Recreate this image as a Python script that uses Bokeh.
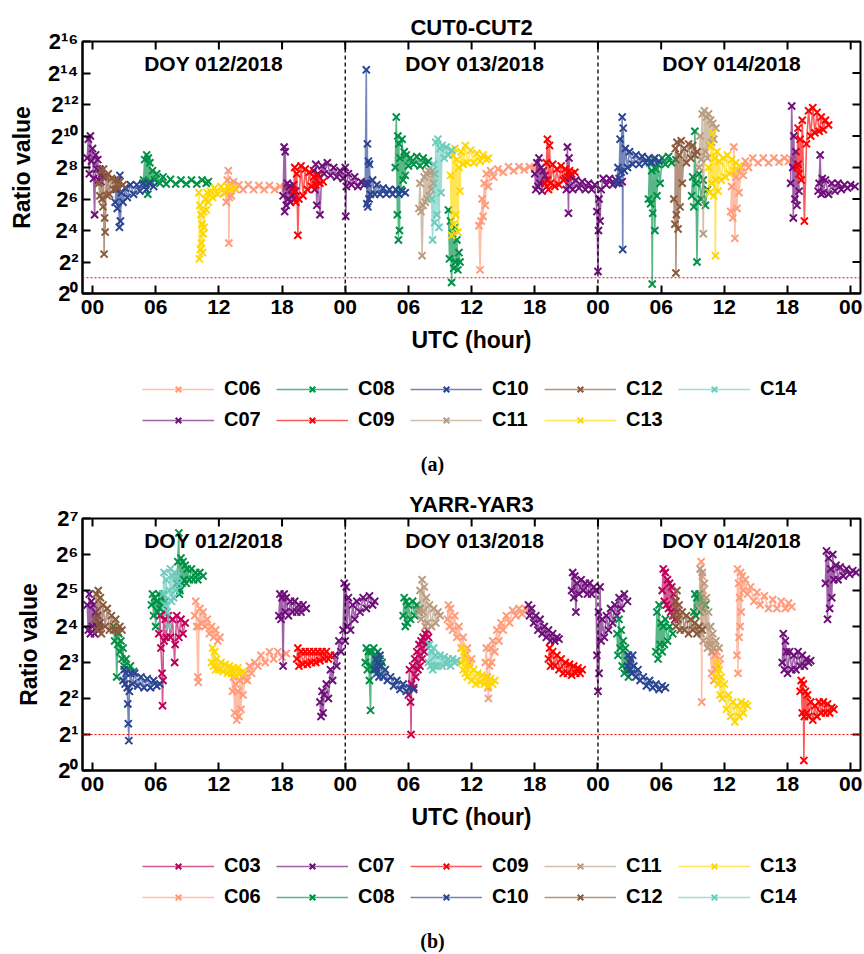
import numpy as np
from bokeh.plotting import figure
from bokeh.layouts import column
from bokeh.models import (Range1d, FixedTicker, CustomJSTickFormatter, Span, Label,
                          Legend, LegendItem)
from bokeh.embed import file_html
from bokeh.resources import INLINE

FONT = "Liberation Sans"

# ---------------- tick values ----------------
hour_ticks = list(range(0, 73, 6))
a_ytick_exp = [0, 2, 4, 6, 8, 10, 12, 14, 16]
b_ytick_exp = [0, 1, 2, 3, 4, 5, 6, 7]
ratio_threshold = 2
day_boundaries = [24, 48]
day_labels = ["DOY 012/2018", "DOY 013/2018", "DOY 014/2018"]

colors = {
    "C03": "#BE0058", "C06": "#FF9B7A", "C07": "#6E0F7A", "C08": "#009046",
    "C09": "#FF0000", "C10": "#2B4592", "C11": "#B99C82", "C12": "#8B5A3C",
    "C13": "#FFD700", "C14": "#6CCDBE",
}

# ---------------- panel (a) CUT0-CUT2: hour of 3-day span, log2(ratio) ----------------
a_c06_hour = [[12.6,12.7,12.8,12.9,12.95,13.0,13.1,13.2,13.4,13.6,13.9,14.3,14.8,15.3,15.8,16.3,16.8,17.3,17.8,18.3],
              [36.7,36.8,36.9,37.0,37.1,37.2,37.3,37.4,37.6,37.8,38.1,38.5,39.0,39.5,40.0,40.5,41.0,41.5,42.0,42.2],
              [60.6,60.7,60.8,60.9,61.0,61.1,61.2,61.3,61.4,61.6,61.8,62.0,62.3,62.7,63.2,63.7,64.2,64.7,65.2,65.7,66.1,66.4]]
a_c06_log2 = [[6.4,5.8,7.2,7.8,3.2,6.1,7.0,6.2,7.1,6.6,6.9,6.6,6.9,6.6,6.85,6.6,6.85,6.6,6.8,6.7],
              [4.3,1.5,4.6,6.0,4.9,7.0,5.6,7.6,6.8,7.8,7.4,7.9,7.7,8.05,7.8,8.05,7.85,8.05,7.9,8.0],
              [5.2,6.8,4.8,9.3,3.5,7.4,5.4,7.8,6.4,8.0,7.5,8.4,8.0,8.6,8.3,8.6,8.3,8.6,8.35,8.6,8.4,8.5]]

a_c07_hour = [[-0.5,-0.4,-0.3,-0.2,-0.1,0.0,0.1,0.2,0.3,0.4,0.5,0.6,0.7,0.8,0.9,1.0],
              [18.1,18.2,18.25,18.3,18.4,18.5,18.6,18.7,18.8,18.9,19.0,19.1,19.2,19.3],
              [21.0,21.1,21.2,21.3,21.4,21.6,21.8,22.0,22.3,22.6,22.9,23.2,23.5,23.8,24.0,24.05,24.1,24.3,24.6,24.9,25.2,25.5,25.8,26.1],
              [42.0,42.1,42.2,42.3,42.4,42.5,42.6,42.7,42.8,42.9,43.0,43.2],
              [44.9,45.0,45.1,45.2,45.25,45.3,45.4,45.6,45.9,46.2,46.5,46.8,47.1,47.4,47.7,47.9,48.0,48.05,48.1,48.2,48.3,48.5,48.8,49.1,49.4,49.7,50.0,50.3],
              [66.3,66.4,66.5,66.55,66.6,66.7,66.8,66.9,67.0,67.1],
              [68.9,69.0,69.1,69.2,69.3,69.4,69.6,69.9,70.2,70.5,70.8,71.1,71.4,71.7,72.0,72.4]]
a_c07_log2 = [[8.6,9.8,7.6,10.0,8.4,9.2,7.3,5.0,8.8,7.9,8.5,7.2,7.9,7.1,7.6,7.4],
              [6.2,9.3,5.2,9.0,5.6,7.0,6.0,6.8,5.8,6.6,6.2,6.9,6.0,6.5],
              [7.8,6.6,8.2,5.6,7.6,5.0,8.1,7.6,8.3,7.5,8.0,7.4,7.8,7.3,8.0,4.9,6.8,7.6,6.9,7.4,6.8,7.1,6.9,7.0],
              [7.6,6.6,8.3,6.8,8.6,7.0,8.0,6.5,7.8,7.0,7.5,7.2],
              [7.3,6.6,9.3,5.1,8.6,6.8,7.4,6.6,7.2,6.7,7.1,6.6,7.0,6.6,6.9,5.2,1.4,4.0,6.0,4.6,6.6,7.3,6.9,7.3,6.9,7.2,7.0,7.1],
              [7.0,11.9,8.0,4.8,10.0,6.0,9.0,5.6,8.2,6.5],
              [6.5,7.0,8.8,6.3,7.3,6.4,7.2,6.3,7.0,6.5,7.0,6.6,6.9,6.7,6.9,6.8]]

a_c08_hour = [[4.85,4.95,5.05,5.15,5.25,5.3,5.35,5.45,5.55,5.7,5.9,6.1,6.4,6.7,7.0,7.4,7.9,8.4,8.9,9.4,9.9,10.4,10.8,11.0],
              [28.75,28.85,28.95,29.0,29.05,29.1,29.15,29.2,29.3,29.4,29.5,29.6,29.7,29.8,30.0,30.2,30.5,30.8,31.1,31.4,31.7,31.9],
              [33.8,33.9,34.0,34.1,34.2,34.3,34.4,34.5,34.6,34.7,34.8,34.9],
              [52.8,52.9,53.0,53.1,53.15,53.2,53.3,53.4,53.5,53.6,53.7,53.9,54.1,54.4,54.7,55.0,55.4],
              [56.9,57.0,57.1,57.2,57.3,57.4,57.5,57.6,57.8,58.0,58.2,58.4]]
a_c08_log2 = [[7.2,8.5,6.9,8.8,6.3,8.6,7.0,8.3,7.1,7.8,7.2,7.6,7.0,7.4,6.95,7.25,6.95,7.2,6.95,7.2,6.95,7.2,7.0,7.1],
              [8.0,11.2,5.0,10.0,3.4,9.5,4.0,8.6,6.6,9.8,7.2,9.0,7.5,8.8,8.1,8.6,8.2,8.7,8.1,8.6,8.2,8.4],
              [5.3,2.2,4.6,0.7,3.8,1.6,4.2,2.0,3.4,1.5,2.6,2.0],
              [6.0,8.3,5.7,7.8,0.6,5.1,8.5,4.0,7.9,6.2,8.2,7.0,8.6,8.2,8.7,8.3,8.5],
              [6.2,7.4,5.5,10.3,7.0,2.0,5.8,7.6,6.0,7.2,5.6,6.6]]

a_c09_hour = [[19.1,19.2,19.3,19.4,19.5,19.6,19.8,20.0,20.2,20.4,20.6,20.8,21.0,21.2,21.4,21.6,21.9],
              [43.0,43.1,43.2,43.3,43.4,43.5,43.7,43.9,44.1,44.3,44.5,44.7,44.9,45.1,45.3,45.5,45.8],
              [66.9,67.0,67.1,67.2,67.3,67.4,67.6,67.8,68.0,68.2,68.4,68.6,68.8,69.0,69.2,69.4,69.6,69.9]]
a_c09_log2 = [[6.5,8.0,5.8,7.6,3.7,6.0,8.1,6.2,7.9,6.6,7.7,6.8,7.4,6.9,7.5,7.0,7.1],
              [7.0,8.3,9.8,6.6,9.4,7.0,8.2,6.8,7.9,6.9,8.1,7.2,7.9,7.4,7.8,7.6,7.7],
              [8.0,10.5,7.6,9.8,7.2,11.0,4.6,9.5,11.6,10.0,11.8,10.2,11.5,10.3,11.2,10.4,11.0,10.7]]

a_c10_hour = [[2.15,2.25,2.35,2.45,2.55,2.6,2.65,2.75,2.9,3.1,3.3,3.6,3.9,4.2,4.5,4.8,5.1,5.4,5.8],
              [25.9,26.0,26.05,26.1,26.15,26.2,26.25,26.3,26.4,26.6,26.8,27.0,27.3,27.6,27.9,28.2,28.5,28.8,29.1,29.4,29.7],
              [49.8,49.9,50.0,50.1,50.2,50.3,50.35,50.4,50.5,50.6,50.8,51.0,51.3,51.6,51.9,52.2,52.5,52.8,53.1,53.4,53.8]]
a_c10_log2 = [[5.8,6.6,5.4,7.2,4.2,7.5,4.6,6.4,5.8,6.7,6.1,6.9,6.3,6.9,6.5,7.0,6.6,7.0,6.8],
              [7.0,14.2,5.7,9.5,5.5,8.4,6.0,8.2,6.3,7.2,6.3,6.9,6.3,6.7,6.3,6.6,6.3,6.6,6.3,6.5,6.4],
              [7.0,8.0,7.3,9.8,7.7,11.2,2.8,10.5,7.8,9.2,8.0,9.0,8.2,8.8,8.2,8.7,8.3,8.6,8.3,8.6,8.4]]

a_c11_hour = [[31.0,31.1,31.2,31.3,31.4,31.5,31.6,31.7,31.8,31.9,32.0,32.1,32.2,32.3,32.4,32.5],
              [57.6,57.7,57.8,57.9,58.0,58.1,58.2,58.3,58.4,58.5,58.6,58.7,58.8,58.9,59.0,59.2]]
a_c11_log2 = [[5.4,7.0,5.2,2.4,5.6,7.4,5.8,7.6,6.0,7.8,6.2,7.7,6.6,7.8,7.0,7.6],
              [8.0,10.0,8.5,11.4,3.8,11.6,9.0,11.2,8.6,11.4,9.4,11.0,9.6,10.8,9.8,10.5]]

a_c12_hour = [[0.6,0.7,0.8,0.9,1.0,1.05,1.1,1.15,1.2,1.3,1.4,1.5,1.6,1.8,2.0,2.2,2.4,2.6,2.9],
              [55.2,55.3,55.35,55.4,55.45,55.5,55.6,55.7,55.8,55.9,56.0,56.2,56.4,56.6,56.8,57.0,57.2,57.4]]
a_c12_log2 = [[7.0,6.2,7.8,6.0,5.5,7.9,2.5,4.8,3.9,7.4,6.2,7.6,6.3,7.3,6.6,7.2,6.7,7.1,6.9],
              [6.0,4.4,9.2,1.3,5.0,9.6,4.1,8.8,5.5,9.7,7.0,9.2,8.3,9.5,8.6,9.4,8.8,9.0]]

a_c13_hour = [[10.1,10.15,10.2,10.25,10.3,10.35,10.4,10.45,10.5,10.55,10.6,10.7,10.8,10.9,11.0,11.2,11.4,11.6,11.9,12.2,12.5,12.8,13.1,13.5],
              [34.0,34.1,34.2,34.3,34.4,34.5,34.6,34.7,34.8,34.9,35.0,35.2,35.4,35.6,35.9,36.2,36.5,36.8,37.1,37.4,37.6],
              [58.5,58.6,58.7,58.8,58.9,59.0,59.1,59.15,59.2,59.3,59.4,59.5,59.7,59.9,60.1,60.3,60.5,60.7,60.9,61.1,61.4]]
a_c13_log2 = [[6.4,2.2,5.6,2.8,5.0,3.2,4.4,2.6,3.8,5.2,4.2,6.0,5.3,6.4,5.8,6.5,6.1,6.7,6.3,6.8,6.4,6.8,6.6,6.7],
              [7.5,3.7,8.8,4.4,9.2,5.0,8.5,3.9,8.0,6.5,9.0,8.2,9.4,8.3,9.1,8.3,8.9,8.4,8.8,8.5,8.6],
              [8.0,6.4,9.4,7.0,10.2,6.2,8.6,2.4,7.2,9.0,6.5,8.4,7.2,8.6,7.4,8.8,7.6,8.5,7.8,8.3,8.1]]

a_c14_hour = [[32.2,32.3,32.4,32.5,32.6,32.7,32.8,32.9,33.0,33.1,33.2,33.4,33.6,33.8,34.1]]
a_c14_log2 = [[6.0,3.4,8.2,4.5,9.6,5.0,9.8,4.2,9.2,6.4,9.4,8.6,9.3,8.8,9.1]]

# ---------------- panel (b) YARR-YAR3 ----------------
b_c03_hour = [[6.3,6.4,6.5,6.6,6.65,6.7,6.75,6.8,6.9,7.0,7.2,7.4,7.6,7.8,7.85,8.0,8.2,8.4,8.6,8.8],
              [30.0,30.1,30.2,30.25,30.3,30.4,30.5,30.6,30.7,30.8,30.9,31.0,31.1,31.2,31.3,31.4,31.5,31.6,31.7,31.8,31.9],
              [54.1,54.2,54.3,54.4,54.5,54.6,54.7,54.8,54.9,55.0,55.1,55.2,55.3,55.4,55.5]]
b_c03_log2 = [[3.8,4.3,3.4,2.7,1.8,2.5,4.4,3.6,4.2,3.7,4.3,3.7,4.2,3.0,3.5,4.3,3.7,4.2,3.8,4.1],
              [2.1,2.8,1.9,1.0,2.4,2.9,2.3,3.1,2.6,3.3,2.8,3.5,2.9,3.6,3.1,3.7,3.3,3.8,3.5,3.9,3.7],
              [5.0,5.6,4.7,5.5,4.6,5.3,4.5,5.2,4.4,5.1,4.3,4.9,4.2,4.7,4.4]]

b_c06_hour = [[9.7,9.8,9.9,10.0,10.05,10.1,10.2,10.3,10.5,10.7,10.9,11.1,11.3,11.5,11.7,11.9,12.1],
              [13.2,13.3,13.4,13.5,13.6,13.7,13.8,13.9,14.0,14.1,14.2,14.3,14.5,14.7,14.9,15.1,15.4,15.7,16.0,16.4,16.8,17.2,17.6,18.0,18.4],
              [33.7,33.8,33.9,34.0,34.2,34.4,34.6,34.8,35.0,35.2,35.4,35.6,35.8,36.0],
              [37.3,37.4,37.5,37.55,37.6,37.7,37.8,37.9,38.0,38.2,38.4,38.6,38.8,39.0,39.3,39.6,39.9,40.2,40.5,40.8,41.1,41.4],
              [57.8,57.85,57.9,57.95,58.0,58.3,58.6,58.8,58.9,59.0,59.1,59.2,59.3,59.4,59.6],
              [61.2,61.25,61.3,61.35,61.4,61.45,61.5,61.55,61.6,61.7,61.8,62.0,62.2,62.5,62.8,63.1,63.4,63.8,64.2,64.6,65.0,65.4,65.8,66.1,66.4]]
b_c06_log2 = [[4.3,4.7,4.0,2.6,2.45,4.0,4.5,4.1,4.4,4.0,4.2,3.8,4.0,3.7,3.9,3.6,3.7],
              [2.8,2.2,2.6,1.6,2.4,1.4,2.2,1.5,2.5,1.7,2.6,2.1,2.7,2.5,2.9,2.7,3.0,2.9,3.2,3.0,3.3,3.1,3.3,3.15,3.25],
              [4.2,4.6,4.0,4.5,3.9,4.3,3.7,4.0,3.4,3.7,3.2,3.4,3.0,3.1],
              [3.0,3.4,2.6,2.3,2.0,2.9,3.4,3.0,3.6,3.3,3.9,3.6,4.1,3.9,4.3,4.1,4.45,4.3,4.5,4.35,4.5,4.45],
              [5.8,1.9,5.4,4.6,5.0,4.0,3.6,2.7,3.3,2.5,3.2,2.8,3.3,2.9,3.1],
              [3.2,5.6,2.7,5.2,3.7,4.8,4.0,5.5,4.4,5.4,5.0,5.3,4.9,5.1,4.7,4.95,4.6,4.85,4.5,4.75,4.5,4.7,4.5,4.65,4.55]]

b_c07_hour = [[-0.5,-0.4,-0.3,-0.2,-0.1,0.0,0.1,0.2,0.3,0.4,0.5,0.6,0.7],
              [17.7,17.8,17.9,18.0,18.1,18.2,18.3,18.4,18.6,18.8,19.0,19.2,19.4,19.6,19.8,20.0,20.3],
              [21.6,21.7,21.8,21.9,22.0,22.2,22.4,22.6,22.8,23.0,23.2,23.4,23.6,23.8,23.9,24.0,24.1,24.2,24.3,24.5,24.7,24.9,25.1,25.4,25.7,26.0,26.3,26.6,26.8],
              [41.4,41.5,41.7,41.9,42.1,42.3,42.5,42.7,42.9,43.1,43.3,43.5,43.7,43.9,44.1,44.3],
              [45.5,45.6,45.7,45.8,45.9,46.0,46.2,46.4,46.6,46.8,47.0,47.2,47.4,47.6,47.8,47.9,48.0,48.05,48.1,48.2,48.3,48.4,48.6,48.8,49.0,49.2,49.4,49.6,49.8,50.0,50.2,50.5,50.8],
              [65.5,65.6,65.7,65.8,65.9,66.0,66.2,66.4,66.6,66.8,67.0,67.2,67.4,67.6,67.8,68.0,68.2],
              [69.6,69.7,69.8,69.9,70.0,70.1,70.2,70.3,70.4,70.6,70.8,71.0,71.3,71.6,71.9,72.2,72.5]]
b_c07_log2 = [[4.6,3.9,4.9,3.8,4.7,4.0,4.6,3.8,4.4,4.0,4.3,3.9,4.1],
              [4.3,4.9,4.2,4.8,2.9,4.9,4.4,4.8,4.3,4.7,4.4,4.7,4.4,4.6,4.4,4.6,4.5],
              [1.9,1.5,2.2,1.6,2.1,2.4,2.0,2.8,2.5,3.2,2.9,3.6,3.3,3.9,5.2,3.6,5.1,4.0,4.8,3.9,4.6,4.2,4.7,4.4,4.8,4.5,4.85,4.6,4.7],
              [4.6,4.3,4.5,4.1,4.3,3.9,4.2,3.8,4.0,3.7,3.9,3.6,3.8,3.6,3.7,3.65],
              [5.0,5.5,4.8,5.4,4.4,5.2,4.9,5.3,5.0,5.2,4.9,5.2,4.9,5.1,5.0,3.2,2.2,4.4,2.7,5.1,3.6,4.2,3.7,4.3,3.9,4.5,4.1,4.6,4.3,4.8,4.5,4.9,4.7],
              [3.0,3.8,2.8,3.6,3.3,2.7,3.3,2.8,3.2,2.8,3.3,2.9,3.2,2.9,3.1,3.0,3.05],
              [5.2,6.1,4.2,5.9,4.5,5.6,4.8,6.0,5.3,5.7,5.3,5.65,5.4,5.6,5.45,5.55,5.5]]

b_c08_hour = [[2.0,2.1,2.2,2.3,2.4,2.5,2.6,2.7,2.8,2.9,3.0,3.2,3.4,3.6,3.9],
              [5.6,5.7,5.8,5.9,6.0,6.1,6.2,6.3,6.4,6.5,6.6,6.7,6.9],
              [8.0,8.1,8.2,8.25,8.3,8.4,8.5,8.6,8.7,8.8,8.9,9.0,9.2,9.4,9.6,9.8,10.0,10.2,10.5],
              [25.9,26.0,26.1,26.2,26.3,26.4,26.45,26.5,26.6,26.7,26.8,26.9,27.0,27.1,27.2,27.3,27.5],
              [29.5,29.6,29.7,29.8,29.9,30.0,30.2,30.4,30.6,30.8,31.0,31.1],
              [49.8,49.9,50.0,50.1,50.2,50.3,50.4,50.5,50.6,50.7,50.8,50.9,51.0,51.1],
              [53.5,53.6,53.7,53.8,53.9,54.0,54.1,54.2,54.3,54.4,54.6,54.8,55.1],
              [57.1,57.2,57.3,57.4,57.5,57.6,57.7,57.8,57.9,58.0,58.2]]
b_c08_log2 = [[4.0,3.6,3.9,2.6,3.5,3.8,3.3,3.6,3.1,3.4,2.9,3.1,2.8,2.9,2.75],
              [4.6,4.9,4.3,4.8,4.0,4.7,4.4,4.9,4.5,4.8,4.6,4.9,4.7],
              [5.2,5.8,6.6,4.9,5.0,5.9,5.2,5.8,5.3,5.7,5.2,5.6,5.3,5.6,5.3,5.5,5.3,5.5,5.4],
              [3.0,3.4,2.8,3.3,2.5,1.67,2.9,3.3,2.8,3.4,2.9,3.2,2.8,3.3,2.9,3.1,3.0],
              [4.3,4.8,4.0,4.7,4.1,4.6,4.2,4.7,4.3,4.6,4.4,4.5],
              [3.8,3.2,4.2,3.4,3.9,2.9,3.6,2.7,3.4,2.8,3.2,2.6,3.0,2.8],
              [3.3,4.4,3.1,4.6,3.5,4.1,3.3,4.0,3.5,4.2,3.6,4.0,3.8],
              [4.4,4.9,4.3,4.8,4.5,4.9,4.4,4.8,4.5,4.7,4.6]]

b_c09_hour = [[19.4,19.5,19.6,19.8,20.0,20.2,20.4,20.6,20.8,21.0,21.2,21.4,21.6,21.8,22.0,22.2,22.4,22.6],
              [43.3,43.4,43.5,43.7,43.9,44.1,44.3,44.5,44.7,44.9,45.1,45.3,45.5,45.7,45.9,46.1,46.3,46.5],
              [67.2,67.3,67.4,67.5,67.55,67.6,67.7,67.8,67.9,68.0,68.2,68.4,68.6,68.8,69.0,69.2,69.4,69.6,69.8,70.0,70.2,70.4]]
b_c09_log2 = [[3.1,3.4,2.9,3.3,2.95,3.3,2.95,3.3,3.0,3.3,3.0,3.3,3.05,3.3,3.1,3.3,3.1,3.2],
              [3.1,3.4,2.9,3.3,2.9,3.2,2.8,3.1,2.7,3.0,2.7,2.95,2.65,2.9,2.7,2.85,2.7,2.8],
              [2.2,2.5,1.6,2.4,0.28,1.5,2.2,1.6,2.1,1.5,1.9,1.4,1.8,1.5,1.9,1.6,1.9,1.6,1.85,1.6,1.75,1.7]]

b_c10_hour = [[2.9,3.0,3.1,3.2,3.3,3.35,3.4,3.45,3.5,3.6,3.8,4.0,4.3,4.6,4.9,5.2,5.5,5.8,6.1,6.4],
              [26.8,26.9,27.0,27.1,27.2,27.3,27.4,27.6,27.8,28.0,28.3,28.6,28.9,29.2,29.5,29.8,30.1,30.5],
              [50.8,50.9,51.0,51.1,51.2,51.3,51.4,51.6,51.8,52.0,52.3,52.6,52.9,53.2,53.5,53.8,54.1,54.4]]
b_c10_log2 = [[2.5,2.8,2.4,2.7,2.3,1.85,1.3,0.83,2.2,2.7,2.4,2.7,2.35,2.6,2.3,2.55,2.3,2.5,2.35,2.4],
              [2.8,3.1,2.7,3.0,2.6,3.2,2.9,2.6,2.8,2.5,2.6,2.35,2.5,2.25,2.4,2.2,2.3,2.25],
              [2.9,3.2,2.8,3.1,2.7,3.2,2.9,2.6,2.8,2.5,2.6,2.35,2.5,2.3,2.4,2.25,2.35,2.3]]

b_c11_hour = [[31.0,31.1,31.2,31.3,31.4,31.5,31.6,31.7,31.8,32.0,32.2,32.4,32.6,32.8,33.0],
              [57.6,57.7,57.8,57.9,58.0,58.1,58.2,58.3,58.4,58.5,58.6,58.7,58.8,58.9,59.0,59.2,59.5]]
b_c11_log2 = [[4.4,5.0,4.2,5.3,4.4,5.1,4.0,4.8,4.1,4.6,4.0,4.5,4.1,4.4,4.3],
              [4.5,5.6,3.8,5.5,3.6,5.2,4.0,4.8,3.4,4.4,3.5,4.0,3.3,3.8,3.4,3.6,3.4]]

b_c12_hour = [[0.25,0.35,0.45,0.55,0.65,0.75,0.85,1.0,1.2,1.4,1.6,1.8,2.0,2.2,2.4,2.6,2.8],
              [55.2,55.3,55.4,55.5,55.6,55.7,55.8,56.0,56.2,56.4,56.6,56.8,57.0,57.2,57.4,57.6,57.9]]
b_c12_log2 = [[4.2,4.9,3.9,5.0,4.0,4.8,3.8,4.6,4.0,4.5,3.9,4.3,3.9,4.2,3.85,4.0,3.9],
              [4.3,4.7,4.0,5.0,4.2,4.6,3.9,4.4,3.9,4.3,3.8,4.2,3.9,4.1,3.8,4.0,3.9]]

b_c13_hour = [[11.3,11.4,11.5,11.6,11.7,11.8,12.0,12.2,12.4,12.6,12.8,13.0,13.2,13.4,13.6,13.8,14.0,14.3],
              [35.0,35.1,35.2,35.3,35.4,35.5,35.6,35.8,36.0,36.2,36.4,36.6,36.8,37.0,37.2,37.4,37.6,37.8,38.0,38.2],
              [59.2,59.3,59.4,59.5,59.6,59.7,59.8,60.0,60.2,60.4,60.6,60.8,61.0,61.2,61.4,61.6,61.8,62.0,62.2]]
b_c13_log2 = [[3.0,3.4,2.9,3.3,2.8,3.1,2.8,3.0,2.75,2.95,2.7,2.9,2.7,2.85,2.65,2.85,2.7,2.75],
              [3.0,3.4,2.8,3.3,2.7,3.1,2.6,2.9,2.5,2.8,2.4,2.7,2.45,2.65,2.4,2.6,2.35,2.55,2.4,2.5],
              [2.6,3.0,2.4,2.8,2.1,2.6,2.0,2.4,1.7,2.1,1.5,1.9,1.35,1.8,1.5,1.9,1.6,1.85,1.8]]

b_c14_hour = [[6.7,6.8,6.9,7.0,7.1,7.2,7.3,7.4,7.5,7.6,7.7,7.8,7.9,8.0,8.2],
              [31.9,32.0,32.1,32.2,32.3,32.4,32.5,32.6,32.8,33.0,33.2,33.4,33.6,33.8,34.0,34.2,34.4,34.6]]
b_c14_log2 = [[4.9,5.5,4.6,5.3,4.4,4.0,5.0,5.6,4.7,5.4,4.8,5.5,5.0,5.4,5.2],
              [3.0,3.5,2.9,3.3,2.8,3.4,2.9,3.2,2.9,3.2,2.9,3.15,2.95,3.1,2.9,3.1,3.0,3.05]]

panel_a_series = [("C06", a_c06_hour, a_c06_log2), ("C07", a_c07_hour, a_c07_log2),
                  ("C08", a_c08_hour, a_c08_log2), ("C09", a_c09_hour, a_c09_log2),
                  ("C10", a_c10_hour, a_c10_log2), ("C11", a_c11_hour, a_c11_log2),
                  ("C12", a_c12_hour, a_c12_log2), ("C13", a_c13_hour, a_c13_log2),
                  ("C14", a_c14_hour, a_c14_log2)]
panel_b_series = [("C03", b_c03_hour, b_c03_log2), ("C06", b_c06_hour, b_c06_log2),
                  ("C07", b_c07_hour, b_c07_log2), ("C08", b_c08_hour, b_c08_log2),
                  ("C09", b_c09_hour, b_c09_log2), ("C10", b_c10_hour, b_c10_log2),
                  ("C11", b_c11_hour, b_c11_log2), ("C12", b_c12_hour, b_c12_log2),
                  ("C13", b_c13_hour, b_c13_log2), ("C14", b_c14_hour, b_c14_log2)]


def concat(arcs):
    out = []
    for i, arc in enumerate(arcs):
        if i:
            out.append(float("nan"))
        out.extend(arc)
    return np.array(out, dtype=float)


YFMT = CustomJSTickFormatter(code="""
const sup = ["\u2070","\u00b9","\u00b2","\u00b3","\u2074","\u2075","\u2076","\u2077","\u2078","\u2079"];
const e = Math.round(Math.log(tick) / Math.LN2);
return "2" + String(e).split("").map(c => sup[parseInt(c)]).join("");
""")
XFMT = CustomJSTickFormatter(code="""
return String(Math.round(tick) % 24).padStart(2, "0");
""")

X_LO, X_HI = -0.95, 72.93
FRAME_L, FRAME_W = 82, 778
LINE_W, LINE_A, MARK_SIZE, MARK_W = 1.6, 0.65, 10, 2.0


def make_panel(title, series, ytick_exp):
    ymax = 2.0 ** ytick_exp[-1]
    yticks = [2.0 ** k for k in ytick_exp]
    p = figure(frame_width=FRAME_W, frame_height=252,
               x_range=Range1d(X_LO, X_HI), y_range=Range1d(1.0, ymax),
               y_axis_type="log", output_backend="svg", toolbar_location=None,
               min_border_left=FRAME_L, min_border_right=4, min_border_top=41,
               min_border_bottom=72, title=title)
    p.title.align = "center"
    p.title.text_font = FONT
    p.title.text_font_size = "22px"
    p.title.text_font_style = "bold"
    p.title.text_color = "black"
    p.title.standoff = 4
    p.grid.visible = False
    p.outline_line_color = "black"
    p.outline_line_width = 2

    xa = p.xaxis[0]
    xa.ticker = FixedTicker(ticks=hour_ticks, minor_ticks=[])
    xa.formatter = XFMT
    xa.axis_label = "UTC (hour)"
    ya = p.yaxis[0]
    ya.ticker = FixedTicker(ticks=yticks, minor_ticks=[])
    ya.formatter = YFMT
    ya.axis_label = "Ratio value"
    for ax in (xa, ya):
        ax.major_tick_in = 8
        ax.major_tick_out = 0
        ax.minor_tick_in = 0
        ax.minor_tick_out = 0
        ax.axis_line_width = 2
        ax.major_tick_line_width = 2
        ax.major_label_text_font = FONT
        ax.major_label_text_font_style = "bold"
        ax.major_label_text_color = "black"
        ax.axis_label_text_font = FONT
        ax.axis_label_text_font_style = "bold"
        ax.axis_label_text_font_size = "23px"
        ax.axis_label_text_color = "black"
    xa.major_label_text_font_size = "21px"
    ya.major_label_text_font_size = "22px"
    xa.major_label_standoff = 6
    xa.axis_label_standoff = 10
    ya.major_label_standoff = 4
    ya.axis_label_standoff = 10

    # inward ticks along the top and right edges of the frame
    p.ray(x=hour_ticks, y=[ymax] * len(hour_ticks), length=8, length_units="screen",
          angle=-np.pi / 2, line_color="black", line_width=2)
    p.ray(x=[X_HI] * len(yticks), y=yticks, length=8, length_units="screen",
          angle=np.pi, line_color="black", line_width=2)

    p.add_layout(Span(location=ratio_threshold, dimension="width", line_color="#FF0000",
                      line_dash="2 2", line_width=1.2))
    for d in day_boundaries:
        p.add_layout(Span(location=d, dimension="height", line_color="black",
                          line_dash="4 3", line_width=1.3))

    for name, hours, log2 in series:
        t = concat(hours)
        r = 2.0 ** concat(log2)
        c = colors[name]
        p.line(t, r, line_color=c, line_width=LINE_W, line_alpha=LINE_A)
        p.scatter(t, r, marker="x", size=MARK_SIZE, line_color=c, line_width=MARK_W)

    for x0, txt in zip([11.5, 36.3, 60.7], day_labels):
        p.add_layout(Label(x=x0, y=230, y_units="screen", text=txt, text_align="center",
                           text_baseline="middle", text_font=FONT, text_font_style="bold",
                           text_font_size="21px", text_color="black"))
    return p


def make_legend_panel(series, caption, height):
    # legend + sub-figure caption, drawn in a bare strip under the chart.
    # The column layout aligns this strip's frame with the chart frame above,
    # so the x range is expressed in page pixels across that frame.
    q = figure(width=864, height=height,
               x_range=Range1d(FRAME_L, FRAME_L + FRAME_W), y_range=Range1d(0, height),
               output_backend="svg", toolbar_location=None, min_border=0,
               min_border_left=0, min_border_right=0, min_border_top=0, min_border_bottom=0)
    q.axis.visible = False
    q.grid.visible = False
    q.outline_line_color = None
    items = []
    for name, _, _ in series:
        c = colors[name]
        # legend-only renderers (single NaN sample, nothing is drawn in the strip)
        lr = q.line(x=[np.nan], y=[np.nan], line_color=c, line_width=LINE_W, line_alpha=LINE_A)
        sr = q.scatter(x=[np.nan], y=[np.nan], marker="x", size=MARK_SIZE, line_color=c,
                       line_width=MARK_W)
        items.append(LegendItem(label=name, renderers=[lr, sr]))
    legend = Legend(items=items, location=(142 - FRAME_L, height - 66), orientation="vertical",
                    nrows=2, glyph_width=72, glyph_height=20, label_height=20, label_width=44,
                    label_standoff=10, spacing=8, padding=0, margin=0,
                    border_line_color=None, background_fill_alpha=0,
                    label_text_font=FONT, label_text_font_style="bold",
                    label_text_font_size="20px", label_text_color="black")
    q.add_layout(legend)
    q.add_layout(Label(x=432, y=height - 98, text=caption, text_align="center",
                       text_baseline="middle", text_font="Liberation Serif",
                       text_font_style="bold", text_font_size="20px", text_color="black"))
    return q


pa = make_panel("CUT0-CUT2", panel_a_series, a_ytick_exp)
la = make_legend_panel(panel_a_series, "(a)", 112)
pb = make_panel("YARR-YAR3", panel_b_series, b_ytick_exp)
lb = make_legend_panel(panel_b_series, "(b)", 112)
layout = column(pa, la, pb, lb, spacing=0)

with open("out.html", "w", encoding="utf-8") as f:
    f.write(file_html(layout, INLINE))
